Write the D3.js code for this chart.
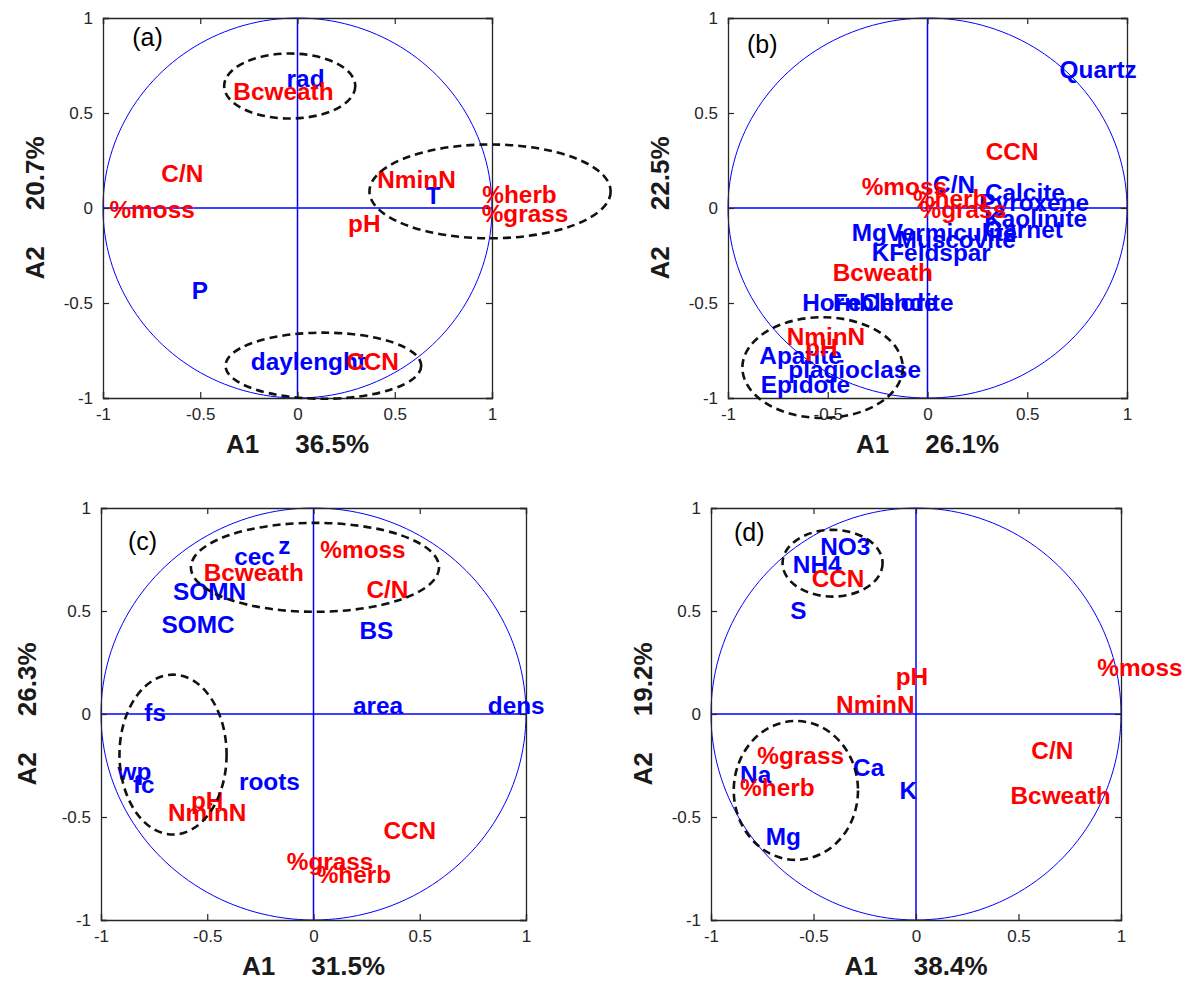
<!DOCTYPE html>
<html>
<head>
<meta charset="utf-8">
<script src="https://cdn.jsdelivr.net/npm/d3@7"></script>
<style>
  body { margin: 0; background: #fff; }
  svg { display: block; }
  text { font-family: "Liberation Sans", Arial, sans-serif; }
</style>
</head>
<body>
<svg id="fig" width="1191" height="985"></svg>
<script>
// ---- data -------------------------------------------------------------
const tickValues = [-1, -0.5, 0, 0.5, 1];
const tickLabels = ["-1", "-0.5", "0", "0.5", "1"];
const panelTags = ["(a)", "(b)", "(c)", "(d)"];
const axis1Pct = ["36.5%", "26.1%", "31.5%", "38.4%"];
const axis2Pct = ["20.7%", "22.5%", "26.3%", "19.2%"];

// loadings on the first two axes: [variable, A1, A2, kind]
// kind "m" = vegetation / soil response variable, "d" = explanatory variable
const loadingsA = [
  ["rad", -0.056, 0.68, "d"],
  ["Bcweath", -0.33, 0.61, "m"],
  ["C/N", -0.70, 0.18, "m"],
  ["%moss", -0.967, -0.01, "m"],
  ["NminN", 0.41, 0.147, "m"],
  ["T", 0.66, 0.063, "d"],
  ["%herb", 0.95, 0.068, "m"],
  ["%grass", 0.947, -0.033, "m"],
  ["pH", 0.26, -0.082, "m"],
  ["P", -0.544, -0.436, "d"],
  ["daylenght", -0.24, -0.81, "d"],
  ["CCN", 0.25, -0.81, "m"]
];

const loadingsB = [
  ["Quartz", 0.662, 0.729, "d"],
  ["C/N", 0.028, 0.121, "d"],
  ["Calcite", 0.288, 0.077, "d"],
  ["Pyroxene", 0.26, 0.028, "d"],
  ["Kaolinite", 0.284, -0.06, "d"],
  ["Garnet", 0.285, -0.116, "d"],
  ["MgVermiculite", -0.38, -0.133, "d"],
  ["Muscovite", -0.155, -0.168, "d"],
  ["KFeldspar", -0.28, -0.237, "d"],
  ["Hornblende", -0.628, -0.502, "d"],
  ["FeChlorite", -0.474, -0.50, "d"],
  ["Apatite", -0.843, -0.779, "d"],
  ["plagioclase", -0.698, -0.853, "d"],
  ["Epidote", -0.836, -0.932, "d"],
  ["CCN", 0.292, 0.296, "m"],
  ["%moss", -0.33, 0.109, "m"],
  ["%herb", -0.073, 0.05, "m"],
  ["%grass", -0.04, -0.01, "m"],
  ["Bcweath", -0.475, -0.34, "m"],
  ["NminN", -0.706, -0.68, "m"],
  ["pH", -0.614, -0.738, "m"]
];

const loadingsC = [
  ["cec", -0.373, 0.763, "d"],
  ["z", -0.166, 0.815, "d"],
  ["SOMN", -0.661, 0.593, "d"],
  ["SOMC", -0.715, 0.434, "d"],
  ["BS", 0.216, 0.405, "d"],
  ["area", 0.186, 0.038, "d"],
  ["dens", 0.82, 0.038, "d"],
  ["fs", -0.796, 0.006, "d"],
  ["wp", -0.922, -0.279, "d"],
  ["fc", -0.85, -0.344, "d"],
  ["roots", -0.351, -0.331, "d"],
  ["%moss", 0.032, 0.796, "m"],
  ["Bcweath", -0.517, 0.686, "m"],
  ["C/N", 0.249, 0.601, "m"],
  ["pH", -0.577, -0.42, "m"],
  ["NminN", -0.685, -0.48, "m"],
  ["CCN", 0.329, -0.566, "m"],
  ["%grass", -0.126, -0.717, "m"],
  ["%herb", 0.015, -0.78, "m"]
];

const loadingsD = [
  ["NO3", -0.467, 0.809, "d"],
  ["NH4", -0.601, 0.723, "d"],
  ["S", -0.614, 0.5, "d"],
  ["Ca", -0.307, -0.262, "d"],
  ["Na", -0.858, -0.294, "d"],
  ["K", -0.081, -0.375, "d"],
  ["Mg", -0.733, -0.595, "d"],
  ["CCN", -0.509, 0.658, "m"],
  ["pH", -0.099, 0.181, "m"],
  ["NminN", -0.39, 0.046, "m"],
  ["%moss", 0.884, 0.222, "m"],
  ["C/N", 0.5625, -0.181, "m"],
  ["Bcweath", 0.461, -0.4, "m"],
  ["%grass", -0.774, -0.202, "m"],
  ["%herb", -0.858, -0.359, "m"]
];

// highlighted groups: [centre A1, centre A2, half-width, half-height]
const groupsA = [[-0.04, 0.642, 0.337, 0.171], [0.99, 0.0875, 0.62, 0.247], [0.133, -0.83, 0.503, 0.174]];
const groupsB = [[-0.526, -0.84, 0.402, 0.265]];
const groupsC = [[0.007, 0.712, 0.584, 0.216], [-0.661, -0.197, 0.252, 0.388]];
const groupsD = [[-0.407, 0.732, 0.244, 0.162], [-0.586, -0.371, 0.303, 0.337]];

// panel tag positions in axis units
const tagPos = [[-0.85, 0.9], [-0.905, 0.863], [-0.873, 0.84], [-0.888, 0.883]];

// ---- layout -------------------------------------------------------------
const boxes = [
  { left: 103, top: 18, right: 492, bottom: 398 },
  { left: 728, top: 18, right: 1127, bottom: 398 },
  { left: 101, top: 508, right: 526, bottom: 920 },
  { left: 711, top: 508, right: 1121, bottom: 920 }
];
const loadings = [loadingsA, loadingsB, loadingsC, loadingsD];
const groups = [groupsA, groupsB, groupsC, groupsD];
const kindColor = { m: "#ff0000", d: "#0000ff" };

const svg = d3.select("#fig");

boxes.forEach((b, i) => {
  const x = d3.scaleLinear().domain([-1, 1]).range([b.left, b.right]);
  const y = d3.scaleLinear().domain([-1, 1]).range([b.bottom, b.top]);
  const g = svg.append("g");

  // unit correlation circle
  const circle = d3.range(0, 361, 2).map(t => [Math.cos(t * Math.PI / 180), Math.sin(t * Math.PI / 180)]);
  g.append("path")
    .attr("d", d3.line().x(d => x(d[0])).y(d => y(d[1]))(circle))
    .attr("fill", "none").attr("stroke", "#0000ff").attr("stroke-width", 1);

  // zero lines
  g.append("line").attr("x1", x(-1)).attr("x2", x(1)).attr("y1", y(0)).attr("y2", y(0))
    .attr("stroke", "#0000ff").attr("stroke-width", 1.5);
  g.append("line").attr("x1", x(0)).attr("x2", x(0)).attr("y1", y(-1)).attr("y2", y(1))
    .attr("stroke", "#0000ff").attr("stroke-width", 1.5);

  // axes with inward ticks on all four sides
  const tk = 6;
  g.append("g").attr("transform", `translate(0,${b.bottom})`)
    .call(d3.axisBottom(x).tickValues(tickValues).tickSize(-tk).tickFormat((d, k) => tickLabels[k]).tickPadding(10));
  g.append("g").attr("transform", `translate(0,${b.top})`)
    .call(d3.axisTop(x).tickValues(tickValues).tickSize(-tk).tickFormat(""));
  g.append("g").attr("transform", `translate(${b.left},0)`)
    .call(d3.axisLeft(y).tickValues(tickValues).tickSize(-tk).tickFormat((d, k) => tickLabels[k]).tickPadding(10));
  g.append("g").attr("transform", `translate(${b.right},0)`)
    .call(d3.axisRight(y).tickValues(tickValues).tickSize(-tk).tickFormat(""));
  g.selectAll(".domain").attr("stroke", "#262626").attr("stroke-width", 1.3);
  g.selectAll(".tick line").attr("stroke", "#262626").attr("stroke-width", 1.2);
  g.selectAll(".tick text").attr("font-size", 17).attr("fill", "#262626")
    .attr("font-family", "'Liberation Sans', Arial, sans-serif");

  // axis titles
  g.append("text")
    .attr("x", x(0)).attr("y", b.bottom + 46).attr("dy", "0.35em")
    .attr("text-anchor", "middle").attr("font-size", 26).attr("font-weight", "bold")
    .attr("fill", "#1a1a1a").style("white-space", "pre")
    .text("A1     " + axis1Pct[i]);
  g.append("text")
    .attr("transform", `translate(${b.left - (i === 2 ? 74 : 68)},${y(0)}) rotate(-90)`)
    .attr("dy", "0.35em")
    .attr("text-anchor", "middle").attr("font-size", 26).attr("font-weight", "bold")
    .attr("fill", "#1a1a1a").style("white-space", "pre")
    .text("A2     " + axis2Pct[i]);

  // panel tag
  g.append("text")
    .attr("x", x(tagPos[i][0])).attr("y", y(tagPos[i][1])).attr("dy", "0.35em")
    .attr("font-size", 25).attr("fill", "#000")
    .attr("font-family", "'Open Sans', 'Liberation Sans', sans-serif")
    .text(panelTags[i]);

  // variable labels (explanatory first, responses on top)
  const ordered = loadings[i].filter(d => d[3] === "d").concat(loadings[i].filter(d => d[3] === "m"));
  g.selectAll("text.var").data(ordered).enter().append("text")
    .attr("class", "var")
    .attr("transform", d => `translate(${x(d[1])},${y(d[2])}) scale(1.06,1)`)
    .attr("dy", "0.35em")
    .attr("font-size", 23).attr("font-weight", "bold")
    .attr("fill", d => kindColor[d[3]])
    .text(d => d[0]);

  // dashed group outlines
  g.selectAll("ellipse.grp").data(groups[i]).enter().append("ellipse")
    .attr("class", "grp")
    .attr("cx", d => x(d[0])).attr("cy", d => y(d[1]))
    .attr("rx", d => x(d[2]) - x(0)).attr("ry", d => y(0) - y(d[3]))
    .attr("fill", "none").attr("stroke", "#111").attr("stroke-width", 2.6)
    .attr("stroke-dasharray", "8,5");
});
</script>
</body>
</html>
